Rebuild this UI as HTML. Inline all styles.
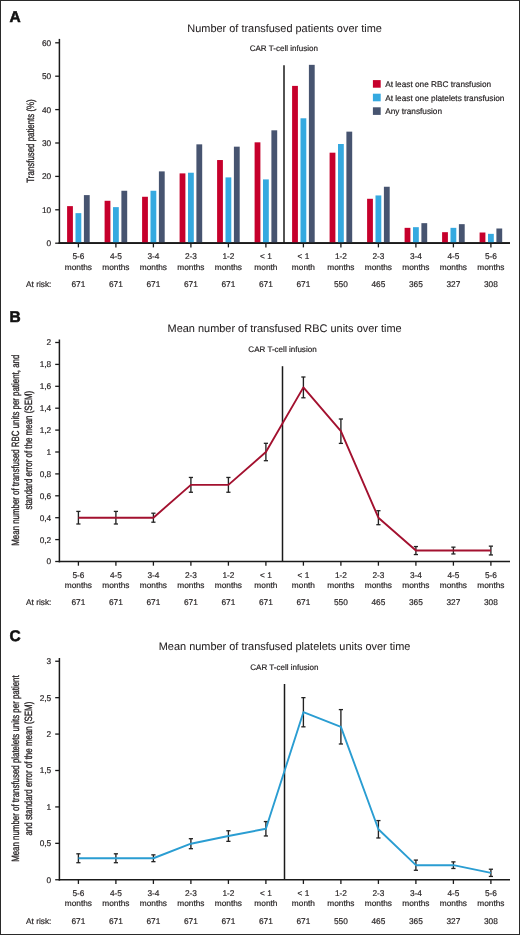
<!DOCTYPE html>
<html><head><meta charset="utf-8"><style>
html,body{margin:0;padding:0;background:#fff;}
body{width:520px;height:935px;overflow:hidden;}
svg{display:block;font-family:"Liberation Sans",sans-serif;text-rendering:geometricPrecision;-webkit-font-smoothing:antialiased;will-change:transform;}
</style></head><body>
<svg width="520" height="935" viewBox="0 0 520 935">
<rect x="0" y="0" width="520" height="935" fill="#fff"/>
<text x="9.40" y="21.60" font-size="15.5" text-anchor="start" fill="#111" font-weight="bold" stroke="#111" stroke-width="0.55">A</text>
<text x="284.60" y="32.10" font-size="10.95" text-anchor="middle" fill="#231f20" stroke="#231f20" stroke-width="0.05" >Number of transfused patients over time</text>
<text x="283.80" y="51.30" font-size="8.05" text-anchor="middle" fill="#231f20" stroke="#231f20" stroke-width="0.18" >CAR T-cell infusion</text>
<line x1="284.00" y1="65.20" x2="284.00" y2="243.20" stroke="#1a1a1a" stroke-width="1.5" />
<line x1="59.40" y1="38.90" x2="59.40" y2="244.00" stroke="#1a1a1a" stroke-width="1.5" />
<line x1="58.70" y1="243.20" x2="510.00" y2="243.20" stroke="#1a1a1a" stroke-width="1.7" />
<line x1="55.20" y1="243.20" x2="59.40" y2="243.20" stroke="#1a1a1a" stroke-width="1.3" />
<text x="51.20" y="246.15" font-size="8.3" text-anchor="end" fill="#231f20" stroke="#231f20" stroke-width="0.18" >0</text>
<line x1="55.20" y1="209.80" x2="59.40" y2="209.80" stroke="#1a1a1a" stroke-width="1.3" />
<text x="51.20" y="212.75" font-size="8.3" text-anchor="end" fill="#231f20" stroke="#231f20" stroke-width="0.18" >10</text>
<line x1="55.20" y1="176.40" x2="59.40" y2="176.40" stroke="#1a1a1a" stroke-width="1.3" />
<text x="51.20" y="179.35" font-size="8.3" text-anchor="end" fill="#231f20" stroke="#231f20" stroke-width="0.18" >20</text>
<line x1="55.20" y1="143.00" x2="59.40" y2="143.00" stroke="#1a1a1a" stroke-width="1.3" />
<text x="51.20" y="145.95" font-size="8.3" text-anchor="end" fill="#231f20" stroke="#231f20" stroke-width="0.18" >30</text>
<line x1="55.20" y1="109.60" x2="59.40" y2="109.60" stroke="#1a1a1a" stroke-width="1.3" />
<text x="51.20" y="112.55" font-size="8.3" text-anchor="end" fill="#231f20" stroke="#231f20" stroke-width="0.18" >40</text>
<line x1="55.20" y1="76.20" x2="59.40" y2="76.20" stroke="#1a1a1a" stroke-width="1.3" />
<text x="51.20" y="79.15" font-size="8.3" text-anchor="end" fill="#231f20" stroke="#231f20" stroke-width="0.18" >50</text>
<line x1="55.20" y1="42.80" x2="59.40" y2="42.80" stroke="#1a1a1a" stroke-width="1.3" />
<text x="51.20" y="45.75" font-size="8.3" text-anchor="end" fill="#231f20" stroke="#231f20" stroke-width="0.18" >60</text>
<line x1="78.40" y1="243.20" x2="78.40" y2="247.40" stroke="#1a1a1a" stroke-width="1.3" />
<text x="78.40" y="259.20" font-size="8.3" text-anchor="middle" fill="#231f20" stroke="#231f20" stroke-width="0.18" >5-6</text>
<text x="78.40" y="269.80" font-size="8.3" text-anchor="middle" fill="#231f20" stroke="#231f20" stroke-width="0.18" >months</text>
<text x="78.40" y="287.00" font-size="8.3" text-anchor="middle" fill="#231f20" stroke="#231f20" stroke-width="0.18" >671</text>
<line x1="115.90" y1="243.20" x2="115.90" y2="247.40" stroke="#1a1a1a" stroke-width="1.3" />
<text x="115.90" y="259.20" font-size="8.3" text-anchor="middle" fill="#231f20" stroke="#231f20" stroke-width="0.18" >4-5</text>
<text x="115.90" y="269.80" font-size="8.3" text-anchor="middle" fill="#231f20" stroke="#231f20" stroke-width="0.18" >months</text>
<text x="115.90" y="287.00" font-size="8.3" text-anchor="middle" fill="#231f20" stroke="#231f20" stroke-width="0.18" >671</text>
<line x1="153.40" y1="243.20" x2="153.40" y2="247.40" stroke="#1a1a1a" stroke-width="1.3" />
<text x="153.40" y="259.20" font-size="8.3" text-anchor="middle" fill="#231f20" stroke="#231f20" stroke-width="0.18" >3-4</text>
<text x="153.40" y="269.80" font-size="8.3" text-anchor="middle" fill="#231f20" stroke="#231f20" stroke-width="0.18" >months</text>
<text x="153.40" y="287.00" font-size="8.3" text-anchor="middle" fill="#231f20" stroke="#231f20" stroke-width="0.18" >671</text>
<line x1="190.90" y1="243.20" x2="190.90" y2="247.40" stroke="#1a1a1a" stroke-width="1.3" />
<text x="190.90" y="259.20" font-size="8.3" text-anchor="middle" fill="#231f20" stroke="#231f20" stroke-width="0.18" >2-3</text>
<text x="190.90" y="269.80" font-size="8.3" text-anchor="middle" fill="#231f20" stroke="#231f20" stroke-width="0.18" >months</text>
<text x="190.90" y="287.00" font-size="8.3" text-anchor="middle" fill="#231f20" stroke="#231f20" stroke-width="0.18" >671</text>
<line x1="228.40" y1="243.20" x2="228.40" y2="247.40" stroke="#1a1a1a" stroke-width="1.3" />
<text x="228.40" y="259.20" font-size="8.3" text-anchor="middle" fill="#231f20" stroke="#231f20" stroke-width="0.18" >1-2</text>
<text x="228.40" y="269.80" font-size="8.3" text-anchor="middle" fill="#231f20" stroke="#231f20" stroke-width="0.18" >months</text>
<text x="228.40" y="287.00" font-size="8.3" text-anchor="middle" fill="#231f20" stroke="#231f20" stroke-width="0.18" >671</text>
<line x1="265.90" y1="243.20" x2="265.90" y2="247.40" stroke="#1a1a1a" stroke-width="1.3" />
<text x="265.90" y="259.20" font-size="8.3" text-anchor="middle" fill="#231f20" stroke="#231f20" stroke-width="0.18" >< 1</text>
<text x="265.90" y="269.80" font-size="8.3" text-anchor="middle" fill="#231f20" stroke="#231f20" stroke-width="0.18" >month</text>
<text x="265.90" y="287.00" font-size="8.3" text-anchor="middle" fill="#231f20" stroke="#231f20" stroke-width="0.18" >671</text>
<line x1="303.40" y1="243.20" x2="303.40" y2="247.40" stroke="#1a1a1a" stroke-width="1.3" />
<text x="303.40" y="259.20" font-size="8.3" text-anchor="middle" fill="#231f20" stroke="#231f20" stroke-width="0.18" >< 1</text>
<text x="303.40" y="269.80" font-size="8.3" text-anchor="middle" fill="#231f20" stroke="#231f20" stroke-width="0.18" >month</text>
<text x="303.40" y="287.00" font-size="8.3" text-anchor="middle" fill="#231f20" stroke="#231f20" stroke-width="0.18" >671</text>
<line x1="340.90" y1="243.20" x2="340.90" y2="247.40" stroke="#1a1a1a" stroke-width="1.3" />
<text x="340.90" y="259.20" font-size="8.3" text-anchor="middle" fill="#231f20" stroke="#231f20" stroke-width="0.18" >1-2</text>
<text x="340.90" y="269.80" font-size="8.3" text-anchor="middle" fill="#231f20" stroke="#231f20" stroke-width="0.18" >months</text>
<text x="340.90" y="287.00" font-size="8.3" text-anchor="middle" fill="#231f20" stroke="#231f20" stroke-width="0.18" >550</text>
<line x1="378.40" y1="243.20" x2="378.40" y2="247.40" stroke="#1a1a1a" stroke-width="1.3" />
<text x="378.40" y="259.20" font-size="8.3" text-anchor="middle" fill="#231f20" stroke="#231f20" stroke-width="0.18" >2-3</text>
<text x="378.40" y="269.80" font-size="8.3" text-anchor="middle" fill="#231f20" stroke="#231f20" stroke-width="0.18" >months</text>
<text x="378.40" y="287.00" font-size="8.3" text-anchor="middle" fill="#231f20" stroke="#231f20" stroke-width="0.18" >465</text>
<line x1="415.90" y1="243.20" x2="415.90" y2="247.40" stroke="#1a1a1a" stroke-width="1.3" />
<text x="415.90" y="259.20" font-size="8.3" text-anchor="middle" fill="#231f20" stroke="#231f20" stroke-width="0.18" >3-4</text>
<text x="415.90" y="269.80" font-size="8.3" text-anchor="middle" fill="#231f20" stroke="#231f20" stroke-width="0.18" >months</text>
<text x="415.90" y="287.00" font-size="8.3" text-anchor="middle" fill="#231f20" stroke="#231f20" stroke-width="0.18" >365</text>
<line x1="453.40" y1="243.20" x2="453.40" y2="247.40" stroke="#1a1a1a" stroke-width="1.3" />
<text x="453.40" y="259.20" font-size="8.3" text-anchor="middle" fill="#231f20" stroke="#231f20" stroke-width="0.18" >4-5</text>
<text x="453.40" y="269.80" font-size="8.3" text-anchor="middle" fill="#231f20" stroke="#231f20" stroke-width="0.18" >months</text>
<text x="453.40" y="287.00" font-size="8.3" text-anchor="middle" fill="#231f20" stroke="#231f20" stroke-width="0.18" >327</text>
<line x1="490.90" y1="243.20" x2="490.90" y2="247.40" stroke="#1a1a1a" stroke-width="1.3" />
<text x="490.90" y="259.20" font-size="8.3" text-anchor="middle" fill="#231f20" stroke="#231f20" stroke-width="0.18" >5-6</text>
<text x="490.90" y="269.80" font-size="8.3" text-anchor="middle" fill="#231f20" stroke="#231f20" stroke-width="0.18" >months</text>
<text x="490.90" y="287.00" font-size="8.3" text-anchor="middle" fill="#231f20" stroke="#231f20" stroke-width="0.18" >308</text>
<text x="26.00" y="287.00" font-size="8.3" text-anchor="start" fill="#231f20" stroke="#231f20" stroke-width="0.18" >At risk:</text>
<text transform="translate(33.60,141.00) rotate(-90)" x="0" y="0" font-size="10.5" text-anchor="middle" fill="#231f20" stroke="#231f20" stroke-width="0.32" textLength="83.3" lengthAdjust="spacingAndGlyphs">Transfused patients (%)</text>
<rect x="67.10" y="206.13" width="5.8" height="37.07" fill="#c6002c"/>
<rect x="75.50" y="213.14" width="5.8" height="30.06" fill="#35a9e0"/>
<rect x="83.90" y="195.10" width="5.8" height="48.10" fill="#475470"/>
<rect x="104.60" y="200.78" width="5.8" height="42.42" fill="#c6002c"/>
<rect x="113.00" y="207.13" width="5.8" height="36.07" fill="#35a9e0"/>
<rect x="121.40" y="190.76" width="5.8" height="52.44" fill="#475470"/>
<rect x="142.10" y="196.77" width="5.8" height="46.43" fill="#c6002c"/>
<rect x="150.50" y="190.76" width="5.8" height="52.44" fill="#35a9e0"/>
<rect x="158.90" y="171.39" width="5.8" height="71.81" fill="#475470"/>
<rect x="179.60" y="173.39" width="5.8" height="69.81" fill="#c6002c"/>
<rect x="188.00" y="172.73" width="5.8" height="70.47" fill="#35a9e0"/>
<rect x="196.40" y="144.34" width="5.8" height="98.86" fill="#475470"/>
<rect x="217.10" y="160.03" width="5.8" height="83.17" fill="#c6002c"/>
<rect x="225.50" y="177.40" width="5.8" height="65.80" fill="#35a9e0"/>
<rect x="233.90" y="146.67" width="5.8" height="96.53" fill="#475470"/>
<rect x="254.60" y="142.33" width="5.8" height="100.87" fill="#c6002c"/>
<rect x="263.00" y="179.41" width="5.8" height="63.79" fill="#35a9e0"/>
<rect x="271.40" y="130.31" width="5.8" height="112.89" fill="#475470"/>
<rect x="292.10" y="85.89" width="5.8" height="157.31" fill="#c6002c"/>
<rect x="300.50" y="118.28" width="5.8" height="124.92" fill="#35a9e0"/>
<rect x="308.90" y="64.84" width="5.8" height="178.36" fill="#475470"/>
<rect x="329.60" y="152.69" width="5.8" height="90.51" fill="#c6002c"/>
<rect x="338.00" y="144.00" width="5.8" height="99.20" fill="#35a9e0"/>
<rect x="346.40" y="131.64" width="5.8" height="111.56" fill="#475470"/>
<rect x="367.10" y="198.78" width="5.8" height="44.42" fill="#c6002c"/>
<rect x="375.50" y="195.44" width="5.8" height="47.76" fill="#35a9e0"/>
<rect x="383.90" y="186.75" width="5.8" height="56.45" fill="#475470"/>
<rect x="404.60" y="227.84" width="5.8" height="15.36" fill="#c6002c"/>
<rect x="413.00" y="227.17" width="5.8" height="16.03" fill="#35a9e0"/>
<rect x="421.40" y="223.16" width="5.8" height="20.04" fill="#475470"/>
<rect x="442.10" y="232.18" width="5.8" height="11.02" fill="#c6002c"/>
<rect x="450.50" y="227.84" width="5.8" height="15.36" fill="#35a9e0"/>
<rect x="458.90" y="224.16" width="5.8" height="19.04" fill="#475470"/>
<rect x="479.60" y="232.51" width="5.8" height="10.69" fill="#c6002c"/>
<rect x="488.00" y="233.85" width="5.8" height="9.35" fill="#35a9e0"/>
<rect x="496.40" y="228.50" width="5.8" height="14.70" fill="#475470"/>
<line x1="58.70" y1="243.20" x2="510.00" y2="243.20" stroke="#1a1a1a" stroke-width="1.7" />
<rect x="372.90" y="80.10" width="7.80" height="7.60" fill="#c6002c"/>
<text x="385.20" y="87.00" font-size="8.25" text-anchor="start" fill="#231f20" stroke="#231f20" stroke-width="0.18" >At least one RBC transfusion</text>
<rect x="372.90" y="93.70" width="7.80" height="7.60" fill="#35a9e0"/>
<text x="385.20" y="100.60" font-size="8.25" text-anchor="start" fill="#231f20" stroke="#231f20" stroke-width="0.18" >At least one platelets transfusion</text>
<rect x="372.90" y="107.30" width="7.80" height="7.60" fill="#475470"/>
<text x="385.20" y="114.20" font-size="8.25" text-anchor="start" fill="#231f20" stroke="#231f20" stroke-width="0.18" >Any transfusion</text>
<text x="9.40" y="322.00" font-size="15.5" text-anchor="start" fill="#111" font-weight="bold" stroke="#111" stroke-width="0.55">B</text>
<text x="284.60" y="332.00" font-size="10.95" text-anchor="middle" fill="#231f20" stroke="#231f20" stroke-width="0.05" >Mean number of transfused RBC units over time</text>
<text x="282.50" y="351.80" font-size="8.05" text-anchor="middle" fill="#231f20" stroke="#231f20" stroke-width="0.18" >CAR T-cell infusion</text>
<line x1="282.50" y1="366.20" x2="282.50" y2="561.50" stroke="#1a1a1a" stroke-width="1.5" />
<line x1="59.40" y1="339.50" x2="59.40" y2="562.30" stroke="#1a1a1a" stroke-width="1.5" />
<line x1="58.70" y1="561.50" x2="510.00" y2="561.50" stroke="#1a1a1a" stroke-width="1.7" />
<line x1="55.20" y1="561.50" x2="59.40" y2="561.50" stroke="#1a1a1a" stroke-width="1.3" />
<text x="51.20" y="564.45" font-size="8.3" text-anchor="end" fill="#231f20" stroke="#231f20" stroke-width="0.18" >0</text>
<line x1="55.20" y1="539.60" x2="59.40" y2="539.60" stroke="#1a1a1a" stroke-width="1.3" />
<text x="51.20" y="542.55" font-size="8.3" text-anchor="end" fill="#231f20" stroke="#231f20" stroke-width="0.18" >0,2</text>
<line x1="55.20" y1="517.70" x2="59.40" y2="517.70" stroke="#1a1a1a" stroke-width="1.3" />
<text x="51.20" y="520.65" font-size="8.3" text-anchor="end" fill="#231f20" stroke="#231f20" stroke-width="0.18" >0,4</text>
<line x1="55.20" y1="495.80" x2="59.40" y2="495.80" stroke="#1a1a1a" stroke-width="1.3" />
<text x="51.20" y="498.75" font-size="8.3" text-anchor="end" fill="#231f20" stroke="#231f20" stroke-width="0.18" >0,6</text>
<line x1="55.20" y1="473.90" x2="59.40" y2="473.90" stroke="#1a1a1a" stroke-width="1.3" />
<text x="51.20" y="476.85" font-size="8.3" text-anchor="end" fill="#231f20" stroke="#231f20" stroke-width="0.18" >0,8</text>
<line x1="55.20" y1="452.00" x2="59.40" y2="452.00" stroke="#1a1a1a" stroke-width="1.3" />
<text x="51.20" y="454.95" font-size="8.3" text-anchor="end" fill="#231f20" stroke="#231f20" stroke-width="0.18" >1</text>
<line x1="55.20" y1="430.10" x2="59.40" y2="430.10" stroke="#1a1a1a" stroke-width="1.3" />
<text x="51.20" y="433.05" font-size="8.3" text-anchor="end" fill="#231f20" stroke="#231f20" stroke-width="0.18" >1,2</text>
<line x1="55.20" y1="408.20" x2="59.40" y2="408.20" stroke="#1a1a1a" stroke-width="1.3" />
<text x="51.20" y="411.15" font-size="8.3" text-anchor="end" fill="#231f20" stroke="#231f20" stroke-width="0.18" >1,4</text>
<line x1="55.20" y1="386.30" x2="59.40" y2="386.30" stroke="#1a1a1a" stroke-width="1.3" />
<text x="51.20" y="389.25" font-size="8.3" text-anchor="end" fill="#231f20" stroke="#231f20" stroke-width="0.18" >1,6</text>
<line x1="55.20" y1="364.40" x2="59.40" y2="364.40" stroke="#1a1a1a" stroke-width="1.3" />
<text x="51.20" y="367.35" font-size="8.3" text-anchor="end" fill="#231f20" stroke="#231f20" stroke-width="0.18" >1,8</text>
<line x1="55.20" y1="342.50" x2="59.40" y2="342.50" stroke="#1a1a1a" stroke-width="1.3" />
<text x="51.20" y="345.45" font-size="8.3" text-anchor="end" fill="#231f20" stroke="#231f20" stroke-width="0.18" >2</text>
<line x1="78.40" y1="561.50" x2="78.40" y2="565.70" stroke="#1a1a1a" stroke-width="1.3" />
<text x="78.40" y="577.50" font-size="8.3" text-anchor="middle" fill="#231f20" stroke="#231f20" stroke-width="0.18" >5-6</text>
<text x="78.40" y="588.10" font-size="8.3" text-anchor="middle" fill="#231f20" stroke="#231f20" stroke-width="0.18" >months</text>
<text x="78.40" y="605.30" font-size="8.3" text-anchor="middle" fill="#231f20" stroke="#231f20" stroke-width="0.18" >671</text>
<line x1="115.90" y1="561.50" x2="115.90" y2="565.70" stroke="#1a1a1a" stroke-width="1.3" />
<text x="115.90" y="577.50" font-size="8.3" text-anchor="middle" fill="#231f20" stroke="#231f20" stroke-width="0.18" >4-5</text>
<text x="115.90" y="588.10" font-size="8.3" text-anchor="middle" fill="#231f20" stroke="#231f20" stroke-width="0.18" >months</text>
<text x="115.90" y="605.30" font-size="8.3" text-anchor="middle" fill="#231f20" stroke="#231f20" stroke-width="0.18" >671</text>
<line x1="153.40" y1="561.50" x2="153.40" y2="565.70" stroke="#1a1a1a" stroke-width="1.3" />
<text x="153.40" y="577.50" font-size="8.3" text-anchor="middle" fill="#231f20" stroke="#231f20" stroke-width="0.18" >3-4</text>
<text x="153.40" y="588.10" font-size="8.3" text-anchor="middle" fill="#231f20" stroke="#231f20" stroke-width="0.18" >months</text>
<text x="153.40" y="605.30" font-size="8.3" text-anchor="middle" fill="#231f20" stroke="#231f20" stroke-width="0.18" >671</text>
<line x1="190.90" y1="561.50" x2="190.90" y2="565.70" stroke="#1a1a1a" stroke-width="1.3" />
<text x="190.90" y="577.50" font-size="8.3" text-anchor="middle" fill="#231f20" stroke="#231f20" stroke-width="0.18" >2-3</text>
<text x="190.90" y="588.10" font-size="8.3" text-anchor="middle" fill="#231f20" stroke="#231f20" stroke-width="0.18" >months</text>
<text x="190.90" y="605.30" font-size="8.3" text-anchor="middle" fill="#231f20" stroke="#231f20" stroke-width="0.18" >671</text>
<line x1="228.40" y1="561.50" x2="228.40" y2="565.70" stroke="#1a1a1a" stroke-width="1.3" />
<text x="228.40" y="577.50" font-size="8.3" text-anchor="middle" fill="#231f20" stroke="#231f20" stroke-width="0.18" >1-2</text>
<text x="228.40" y="588.10" font-size="8.3" text-anchor="middle" fill="#231f20" stroke="#231f20" stroke-width="0.18" >months</text>
<text x="228.40" y="605.30" font-size="8.3" text-anchor="middle" fill="#231f20" stroke="#231f20" stroke-width="0.18" >671</text>
<line x1="265.90" y1="561.50" x2="265.90" y2="565.70" stroke="#1a1a1a" stroke-width="1.3" />
<text x="265.90" y="577.50" font-size="8.3" text-anchor="middle" fill="#231f20" stroke="#231f20" stroke-width="0.18" >< 1</text>
<text x="265.90" y="588.10" font-size="8.3" text-anchor="middle" fill="#231f20" stroke="#231f20" stroke-width="0.18" >month</text>
<text x="265.90" y="605.30" font-size="8.3" text-anchor="middle" fill="#231f20" stroke="#231f20" stroke-width="0.18" >671</text>
<line x1="303.40" y1="561.50" x2="303.40" y2="565.70" stroke="#1a1a1a" stroke-width="1.3" />
<text x="303.40" y="577.50" font-size="8.3" text-anchor="middle" fill="#231f20" stroke="#231f20" stroke-width="0.18" >< 1</text>
<text x="303.40" y="588.10" font-size="8.3" text-anchor="middle" fill="#231f20" stroke="#231f20" stroke-width="0.18" >month</text>
<text x="303.40" y="605.30" font-size="8.3" text-anchor="middle" fill="#231f20" stroke="#231f20" stroke-width="0.18" >671</text>
<line x1="340.90" y1="561.50" x2="340.90" y2="565.70" stroke="#1a1a1a" stroke-width="1.3" />
<text x="340.90" y="577.50" font-size="8.3" text-anchor="middle" fill="#231f20" stroke="#231f20" stroke-width="0.18" >1-2</text>
<text x="340.90" y="588.10" font-size="8.3" text-anchor="middle" fill="#231f20" stroke="#231f20" stroke-width="0.18" >months</text>
<text x="340.90" y="605.30" font-size="8.3" text-anchor="middle" fill="#231f20" stroke="#231f20" stroke-width="0.18" >550</text>
<line x1="378.40" y1="561.50" x2="378.40" y2="565.70" stroke="#1a1a1a" stroke-width="1.3" />
<text x="378.40" y="577.50" font-size="8.3" text-anchor="middle" fill="#231f20" stroke="#231f20" stroke-width="0.18" >2-3</text>
<text x="378.40" y="588.10" font-size="8.3" text-anchor="middle" fill="#231f20" stroke="#231f20" stroke-width="0.18" >months</text>
<text x="378.40" y="605.30" font-size="8.3" text-anchor="middle" fill="#231f20" stroke="#231f20" stroke-width="0.18" >465</text>
<line x1="415.90" y1="561.50" x2="415.90" y2="565.70" stroke="#1a1a1a" stroke-width="1.3" />
<text x="415.90" y="577.50" font-size="8.3" text-anchor="middle" fill="#231f20" stroke="#231f20" stroke-width="0.18" >3-4</text>
<text x="415.90" y="588.10" font-size="8.3" text-anchor="middle" fill="#231f20" stroke="#231f20" stroke-width="0.18" >months</text>
<text x="415.90" y="605.30" font-size="8.3" text-anchor="middle" fill="#231f20" stroke="#231f20" stroke-width="0.18" >365</text>
<line x1="453.40" y1="561.50" x2="453.40" y2="565.70" stroke="#1a1a1a" stroke-width="1.3" />
<text x="453.40" y="577.50" font-size="8.3" text-anchor="middle" fill="#231f20" stroke="#231f20" stroke-width="0.18" >4-5</text>
<text x="453.40" y="588.10" font-size="8.3" text-anchor="middle" fill="#231f20" stroke="#231f20" stroke-width="0.18" >months</text>
<text x="453.40" y="605.30" font-size="8.3" text-anchor="middle" fill="#231f20" stroke="#231f20" stroke-width="0.18" >327</text>
<line x1="490.90" y1="561.50" x2="490.90" y2="565.70" stroke="#1a1a1a" stroke-width="1.3" />
<text x="490.90" y="577.50" font-size="8.3" text-anchor="middle" fill="#231f20" stroke="#231f20" stroke-width="0.18" >5-6</text>
<text x="490.90" y="588.10" font-size="8.3" text-anchor="middle" fill="#231f20" stroke="#231f20" stroke-width="0.18" >months</text>
<text x="490.90" y="605.30" font-size="8.3" text-anchor="middle" fill="#231f20" stroke="#231f20" stroke-width="0.18" >308</text>
<text x="26.00" y="605.30" font-size="8.3" text-anchor="start" fill="#231f20" stroke="#231f20" stroke-width="0.18" >At risk:</text>
<text transform="translate(19.00,450.20) rotate(-90)" x="0" y="0" font-size="10.5" text-anchor="middle" fill="#231f20" stroke="#231f20" stroke-width="0.32" textLength="191.0" lengthAdjust="spacingAndGlyphs">Mean number of transfused RBC units per patient, and</text>
<text transform="translate(32.00,450.20) rotate(-90)" x="0" y="0" font-size="10.5" text-anchor="middle" fill="#231f20" stroke="#231f20" stroke-width="0.32" textLength="118.8" lengthAdjust="spacingAndGlyphs">standard error of the mean (SEM)</text>
<line x1="78.40" y1="511.40" x2="78.40" y2="524.00" stroke="#222222" stroke-width="1.35" />
<line x1="76.30" y1="511.40" x2="80.50" y2="511.40" stroke="#222222" stroke-width="1.3" />
<line x1="76.30" y1="524.00" x2="80.50" y2="524.00" stroke="#222222" stroke-width="1.3" />
<line x1="115.90" y1="511.40" x2="115.90" y2="524.00" stroke="#222222" stroke-width="1.35" />
<line x1="113.80" y1="511.40" x2="118.00" y2="511.40" stroke="#222222" stroke-width="1.3" />
<line x1="113.80" y1="524.00" x2="118.00" y2="524.00" stroke="#222222" stroke-width="1.3" />
<line x1="153.40" y1="513.20" x2="153.40" y2="522.20" stroke="#222222" stroke-width="1.35" />
<line x1="151.30" y1="513.20" x2="155.50" y2="513.20" stroke="#222222" stroke-width="1.3" />
<line x1="151.30" y1="522.20" x2="155.50" y2="522.20" stroke="#222222" stroke-width="1.3" />
<line x1="190.90" y1="477.45" x2="190.90" y2="492.25" stroke="#222222" stroke-width="1.35" />
<line x1="188.80" y1="477.45" x2="193.00" y2="477.45" stroke="#222222" stroke-width="1.3" />
<line x1="188.80" y1="492.25" x2="193.00" y2="492.25" stroke="#222222" stroke-width="1.3" />
<line x1="228.40" y1="477.45" x2="228.40" y2="492.25" stroke="#222222" stroke-width="1.35" />
<line x1="226.30" y1="477.45" x2="230.50" y2="477.45" stroke="#222222" stroke-width="1.3" />
<line x1="226.30" y1="492.25" x2="230.50" y2="492.25" stroke="#222222" stroke-width="1.3" />
<line x1="265.90" y1="443.30" x2="265.90" y2="460.70" stroke="#222222" stroke-width="1.35" />
<line x1="263.80" y1="443.30" x2="268.00" y2="443.30" stroke="#222222" stroke-width="1.3" />
<line x1="263.80" y1="460.70" x2="268.00" y2="460.70" stroke="#222222" stroke-width="1.3" />
<line x1="303.40" y1="377.00" x2="303.40" y2="397.79" stroke="#222222" stroke-width="1.35" />
<line x1="301.30" y1="377.00" x2="305.50" y2="377.00" stroke="#222222" stroke-width="1.3" />
<line x1="301.30" y1="397.79" x2="305.50" y2="397.79" stroke="#222222" stroke-width="1.3" />
<line x1="340.90" y1="419.00" x2="340.90" y2="443.39" stroke="#222222" stroke-width="1.35" />
<line x1="338.80" y1="419.00" x2="343.00" y2="419.00" stroke="#222222" stroke-width="1.3" />
<line x1="338.80" y1="443.39" x2="343.00" y2="443.39" stroke="#222222" stroke-width="1.3" />
<line x1="378.40" y1="510.70" x2="378.40" y2="524.70" stroke="#222222" stroke-width="1.35" />
<line x1="376.30" y1="510.70" x2="380.50" y2="510.70" stroke="#222222" stroke-width="1.3" />
<line x1="376.30" y1="524.70" x2="380.50" y2="524.70" stroke="#222222" stroke-width="1.3" />
<line x1="415.90" y1="546.55" x2="415.90" y2="554.55" stroke="#222222" stroke-width="1.35" />
<line x1="413.80" y1="546.55" x2="418.00" y2="546.55" stroke="#222222" stroke-width="1.3" />
<line x1="413.80" y1="554.55" x2="418.00" y2="554.55" stroke="#222222" stroke-width="1.3" />
<line x1="453.40" y1="547.15" x2="453.40" y2="553.95" stroke="#222222" stroke-width="1.35" />
<line x1="451.30" y1="547.15" x2="455.50" y2="547.15" stroke="#222222" stroke-width="1.3" />
<line x1="451.30" y1="553.95" x2="455.50" y2="553.95" stroke="#222222" stroke-width="1.3" />
<line x1="490.90" y1="546.15" x2="490.90" y2="554.95" stroke="#222222" stroke-width="1.35" />
<line x1="488.80" y1="546.15" x2="493.00" y2="546.15" stroke="#222222" stroke-width="1.3" />
<line x1="488.80" y1="554.95" x2="493.00" y2="554.95" stroke="#222222" stroke-width="1.3" />
<polyline points="78.40,517.70 115.90,517.70 153.40,517.70 190.90,484.85 228.40,484.85 265.90,452.00 303.40,387.39 340.90,431.19 378.40,517.70 415.90,550.55 453.40,550.55 490.90,550.55" fill="none" stroke="#a3112f" stroke-width="1.9" stroke-linejoin="round"/>
<text x="9.40" y="640.90" font-size="15.5" text-anchor="start" fill="#111" font-weight="bold" stroke="#111" stroke-width="0.55">C</text>
<text x="284.60" y="650.30" font-size="10.95" text-anchor="middle" fill="#231f20" stroke="#231f20" stroke-width="0.05" >Mean number of transfused platelets units over time</text>
<text x="284.40" y="669.50" font-size="8.05" text-anchor="middle" fill="#231f20" stroke="#231f20" stroke-width="0.18" >CAR T-cell infusion</text>
<line x1="284.50" y1="684.00" x2="284.50" y2="879.75" stroke="#1a1a1a" stroke-width="1.5" />
<line x1="59.40" y1="658.00" x2="59.40" y2="880.55" stroke="#1a1a1a" stroke-width="1.5" />
<line x1="58.70" y1="879.75" x2="510.00" y2="879.75" stroke="#1a1a1a" stroke-width="1.7" />
<line x1="55.20" y1="879.75" x2="59.40" y2="879.75" stroke="#1a1a1a" stroke-width="1.3" />
<text x="51.20" y="882.70" font-size="8.3" text-anchor="end" fill="#231f20" stroke="#231f20" stroke-width="0.18" >0</text>
<line x1="55.20" y1="843.33" x2="59.40" y2="843.33" stroke="#1a1a1a" stroke-width="1.3" />
<text x="51.20" y="846.28" font-size="8.3" text-anchor="end" fill="#231f20" stroke="#231f20" stroke-width="0.18" >0,5</text>
<line x1="55.20" y1="806.92" x2="59.40" y2="806.92" stroke="#1a1a1a" stroke-width="1.3" />
<text x="51.20" y="809.87" font-size="8.3" text-anchor="end" fill="#231f20" stroke="#231f20" stroke-width="0.18" >1</text>
<line x1="55.20" y1="770.50" x2="59.40" y2="770.50" stroke="#1a1a1a" stroke-width="1.3" />
<text x="51.20" y="773.45" font-size="8.3" text-anchor="end" fill="#231f20" stroke="#231f20" stroke-width="0.18" >1,5</text>
<line x1="55.20" y1="734.08" x2="59.40" y2="734.08" stroke="#1a1a1a" stroke-width="1.3" />
<text x="51.20" y="737.03" font-size="8.3" text-anchor="end" fill="#231f20" stroke="#231f20" stroke-width="0.18" >2</text>
<line x1="55.20" y1="697.67" x2="59.40" y2="697.67" stroke="#1a1a1a" stroke-width="1.3" />
<text x="51.20" y="700.62" font-size="8.3" text-anchor="end" fill="#231f20" stroke="#231f20" stroke-width="0.18" >2,5</text>
<line x1="55.20" y1="661.25" x2="59.40" y2="661.25" stroke="#1a1a1a" stroke-width="1.3" />
<text x="51.20" y="664.20" font-size="8.3" text-anchor="end" fill="#231f20" stroke="#231f20" stroke-width="0.18" >3</text>
<line x1="78.40" y1="879.75" x2="78.40" y2="883.95" stroke="#1a1a1a" stroke-width="1.3" />
<text x="78.40" y="895.75" font-size="8.3" text-anchor="middle" fill="#231f20" stroke="#231f20" stroke-width="0.18" >5-6</text>
<text x="78.40" y="906.35" font-size="8.3" text-anchor="middle" fill="#231f20" stroke="#231f20" stroke-width="0.18" >months</text>
<text x="78.40" y="923.55" font-size="8.3" text-anchor="middle" fill="#231f20" stroke="#231f20" stroke-width="0.18" >671</text>
<line x1="115.90" y1="879.75" x2="115.90" y2="883.95" stroke="#1a1a1a" stroke-width="1.3" />
<text x="115.90" y="895.75" font-size="8.3" text-anchor="middle" fill="#231f20" stroke="#231f20" stroke-width="0.18" >4-5</text>
<text x="115.90" y="906.35" font-size="8.3" text-anchor="middle" fill="#231f20" stroke="#231f20" stroke-width="0.18" >months</text>
<text x="115.90" y="923.55" font-size="8.3" text-anchor="middle" fill="#231f20" stroke="#231f20" stroke-width="0.18" >671</text>
<line x1="153.40" y1="879.75" x2="153.40" y2="883.95" stroke="#1a1a1a" stroke-width="1.3" />
<text x="153.40" y="895.75" font-size="8.3" text-anchor="middle" fill="#231f20" stroke="#231f20" stroke-width="0.18" >3-4</text>
<text x="153.40" y="906.35" font-size="8.3" text-anchor="middle" fill="#231f20" stroke="#231f20" stroke-width="0.18" >months</text>
<text x="153.40" y="923.55" font-size="8.3" text-anchor="middle" fill="#231f20" stroke="#231f20" stroke-width="0.18" >671</text>
<line x1="190.90" y1="879.75" x2="190.90" y2="883.95" stroke="#1a1a1a" stroke-width="1.3" />
<text x="190.90" y="895.75" font-size="8.3" text-anchor="middle" fill="#231f20" stroke="#231f20" stroke-width="0.18" >2-3</text>
<text x="190.90" y="906.35" font-size="8.3" text-anchor="middle" fill="#231f20" stroke="#231f20" stroke-width="0.18" >months</text>
<text x="190.90" y="923.55" font-size="8.3" text-anchor="middle" fill="#231f20" stroke="#231f20" stroke-width="0.18" >671</text>
<line x1="228.40" y1="879.75" x2="228.40" y2="883.95" stroke="#1a1a1a" stroke-width="1.3" />
<text x="228.40" y="895.75" font-size="8.3" text-anchor="middle" fill="#231f20" stroke="#231f20" stroke-width="0.18" >1-2</text>
<text x="228.40" y="906.35" font-size="8.3" text-anchor="middle" fill="#231f20" stroke="#231f20" stroke-width="0.18" >months</text>
<text x="228.40" y="923.55" font-size="8.3" text-anchor="middle" fill="#231f20" stroke="#231f20" stroke-width="0.18" >671</text>
<line x1="265.90" y1="879.75" x2="265.90" y2="883.95" stroke="#1a1a1a" stroke-width="1.3" />
<text x="265.90" y="895.75" font-size="8.3" text-anchor="middle" fill="#231f20" stroke="#231f20" stroke-width="0.18" >< 1</text>
<text x="265.90" y="906.35" font-size="8.3" text-anchor="middle" fill="#231f20" stroke="#231f20" stroke-width="0.18" >month</text>
<text x="265.90" y="923.55" font-size="8.3" text-anchor="middle" fill="#231f20" stroke="#231f20" stroke-width="0.18" >671</text>
<line x1="303.40" y1="879.75" x2="303.40" y2="883.95" stroke="#1a1a1a" stroke-width="1.3" />
<text x="303.40" y="895.75" font-size="8.3" text-anchor="middle" fill="#231f20" stroke="#231f20" stroke-width="0.18" >< 1</text>
<text x="303.40" y="906.35" font-size="8.3" text-anchor="middle" fill="#231f20" stroke="#231f20" stroke-width="0.18" >month</text>
<text x="303.40" y="923.55" font-size="8.3" text-anchor="middle" fill="#231f20" stroke="#231f20" stroke-width="0.18" >671</text>
<line x1="340.90" y1="879.75" x2="340.90" y2="883.95" stroke="#1a1a1a" stroke-width="1.3" />
<text x="340.90" y="895.75" font-size="8.3" text-anchor="middle" fill="#231f20" stroke="#231f20" stroke-width="0.18" >1-2</text>
<text x="340.90" y="906.35" font-size="8.3" text-anchor="middle" fill="#231f20" stroke="#231f20" stroke-width="0.18" >months</text>
<text x="340.90" y="923.55" font-size="8.3" text-anchor="middle" fill="#231f20" stroke="#231f20" stroke-width="0.18" >550</text>
<line x1="378.40" y1="879.75" x2="378.40" y2="883.95" stroke="#1a1a1a" stroke-width="1.3" />
<text x="378.40" y="895.75" font-size="8.3" text-anchor="middle" fill="#231f20" stroke="#231f20" stroke-width="0.18" >2-3</text>
<text x="378.40" y="906.35" font-size="8.3" text-anchor="middle" fill="#231f20" stroke="#231f20" stroke-width="0.18" >months</text>
<text x="378.40" y="923.55" font-size="8.3" text-anchor="middle" fill="#231f20" stroke="#231f20" stroke-width="0.18" >465</text>
<line x1="415.90" y1="879.75" x2="415.90" y2="883.95" stroke="#1a1a1a" stroke-width="1.3" />
<text x="415.90" y="895.75" font-size="8.3" text-anchor="middle" fill="#231f20" stroke="#231f20" stroke-width="0.18" >3-4</text>
<text x="415.90" y="906.35" font-size="8.3" text-anchor="middle" fill="#231f20" stroke="#231f20" stroke-width="0.18" >months</text>
<text x="415.90" y="923.55" font-size="8.3" text-anchor="middle" fill="#231f20" stroke="#231f20" stroke-width="0.18" >365</text>
<line x1="453.40" y1="879.75" x2="453.40" y2="883.95" stroke="#1a1a1a" stroke-width="1.3" />
<text x="453.40" y="895.75" font-size="8.3" text-anchor="middle" fill="#231f20" stroke="#231f20" stroke-width="0.18" >4-5</text>
<text x="453.40" y="906.35" font-size="8.3" text-anchor="middle" fill="#231f20" stroke="#231f20" stroke-width="0.18" >months</text>
<text x="453.40" y="923.55" font-size="8.3" text-anchor="middle" fill="#231f20" stroke="#231f20" stroke-width="0.18" >327</text>
<line x1="490.90" y1="879.75" x2="490.90" y2="883.95" stroke="#1a1a1a" stroke-width="1.3" />
<text x="490.90" y="895.75" font-size="8.3" text-anchor="middle" fill="#231f20" stroke="#231f20" stroke-width="0.18" >5-6</text>
<text x="490.90" y="906.35" font-size="8.3" text-anchor="middle" fill="#231f20" stroke="#231f20" stroke-width="0.18" >months</text>
<text x="490.90" y="923.55" font-size="8.3" text-anchor="middle" fill="#231f20" stroke="#231f20" stroke-width="0.18" >308</text>
<text x="26.00" y="923.55" font-size="8.3" text-anchor="start" fill="#231f20" stroke="#231f20" stroke-width="0.18" >At risk:</text>
<text transform="translate(18.60,768.60) rotate(-90)" x="0" y="0" font-size="10.5" text-anchor="middle" fill="#231f20" stroke="#231f20" stroke-width="0.32" textLength="186.5" lengthAdjust="spacingAndGlyphs">Mean number of transfused platelets units per patient</text>
<text transform="translate(31.50,768.60) rotate(-90)" x="0" y="0" font-size="10.5" text-anchor="middle" fill="#231f20" stroke="#231f20" stroke-width="0.32" textLength="133.9" lengthAdjust="spacingAndGlyphs">and standard error of the mean (SEM)</text>
<line x1="78.40" y1="853.81" x2="78.40" y2="862.71" stroke="#222222" stroke-width="1.35" />
<line x1="76.30" y1="853.81" x2="80.50" y2="853.81" stroke="#222222" stroke-width="1.3" />
<line x1="76.30" y1="862.71" x2="80.50" y2="862.71" stroke="#222222" stroke-width="1.3" />
<line x1="115.90" y1="853.81" x2="115.90" y2="862.71" stroke="#222222" stroke-width="1.35" />
<line x1="113.80" y1="853.81" x2="118.00" y2="853.81" stroke="#222222" stroke-width="1.3" />
<line x1="113.80" y1="862.71" x2="118.00" y2="862.71" stroke="#222222" stroke-width="1.3" />
<line x1="153.40" y1="854.86" x2="153.40" y2="861.66" stroke="#222222" stroke-width="1.35" />
<line x1="151.30" y1="854.86" x2="155.50" y2="854.86" stroke="#222222" stroke-width="1.3" />
<line x1="151.30" y1="861.66" x2="155.50" y2="861.66" stroke="#222222" stroke-width="1.3" />
<line x1="190.90" y1="838.70" x2="190.90" y2="848.70" stroke="#222222" stroke-width="1.35" />
<line x1="188.80" y1="838.70" x2="193.00" y2="838.70" stroke="#222222" stroke-width="1.3" />
<line x1="188.80" y1="848.70" x2="193.00" y2="848.70" stroke="#222222" stroke-width="1.3" />
<line x1="228.40" y1="830.75" x2="228.40" y2="841.35" stroke="#222222" stroke-width="1.35" />
<line x1="226.30" y1="830.75" x2="230.50" y2="830.75" stroke="#222222" stroke-width="1.3" />
<line x1="226.30" y1="841.35" x2="230.50" y2="841.35" stroke="#222222" stroke-width="1.3" />
<line x1="265.90" y1="821.57" x2="265.90" y2="835.97" stroke="#222222" stroke-width="1.35" />
<line x1="263.80" y1="821.57" x2="268.00" y2="821.57" stroke="#222222" stroke-width="1.3" />
<line x1="263.80" y1="835.97" x2="268.00" y2="835.97" stroke="#222222" stroke-width="1.3" />
<line x1="303.40" y1="697.63" x2="303.40" y2="726.83" stroke="#222222" stroke-width="1.35" />
<line x1="301.30" y1="697.63" x2="305.50" y2="697.63" stroke="#222222" stroke-width="1.3" />
<line x1="301.30" y1="726.83" x2="305.50" y2="726.83" stroke="#222222" stroke-width="1.3" />
<line x1="340.90" y1="709.60" x2="340.90" y2="744.00" stroke="#222222" stroke-width="1.35" />
<line x1="338.80" y1="709.60" x2="343.00" y2="709.60" stroke="#222222" stroke-width="1.3" />
<line x1="338.80" y1="744.00" x2="343.00" y2="744.00" stroke="#222222" stroke-width="1.3" />
<line x1="378.40" y1="820.58" x2="378.40" y2="837.98" stroke="#222222" stroke-width="1.35" />
<line x1="376.30" y1="820.58" x2="380.50" y2="820.58" stroke="#222222" stroke-width="1.3" />
<line x1="376.30" y1="837.98" x2="380.50" y2="837.98" stroke="#222222" stroke-width="1.3" />
<line x1="415.90" y1="860.08" x2="415.90" y2="870.28" stroke="#222222" stroke-width="1.35" />
<line x1="413.80" y1="860.08" x2="418.00" y2="860.08" stroke="#222222" stroke-width="1.3" />
<line x1="413.80" y1="870.28" x2="418.00" y2="870.28" stroke="#222222" stroke-width="1.3" />
<line x1="453.40" y1="861.88" x2="453.40" y2="868.48" stroke="#222222" stroke-width="1.35" />
<line x1="451.30" y1="861.88" x2="455.50" y2="861.88" stroke="#222222" stroke-width="1.3" />
<line x1="451.30" y1="868.48" x2="455.50" y2="868.48" stroke="#222222" stroke-width="1.3" />
<line x1="490.90" y1="869.23" x2="490.90" y2="876.43" stroke="#222222" stroke-width="1.35" />
<line x1="488.80" y1="869.23" x2="493.00" y2="869.23" stroke="#222222" stroke-width="1.3" />
<line x1="488.80" y1="876.43" x2="493.00" y2="876.43" stroke="#222222" stroke-width="1.3" />
<polyline points="78.40,858.26 115.90,858.26 153.40,858.26 190.90,843.70 228.40,836.05 265.90,828.77 303.40,712.23 340.90,726.80 378.40,829.28 415.90,865.18 453.40,865.18 490.90,872.83" fill="none" stroke="#2a9dd2" stroke-width="1.9" stroke-linejoin="round"/>
<rect x="0.5" y="0.5" width="519" height="934" fill="none" stroke="#2a2a2a" stroke-width="1"/>
</svg>
</body></html>
